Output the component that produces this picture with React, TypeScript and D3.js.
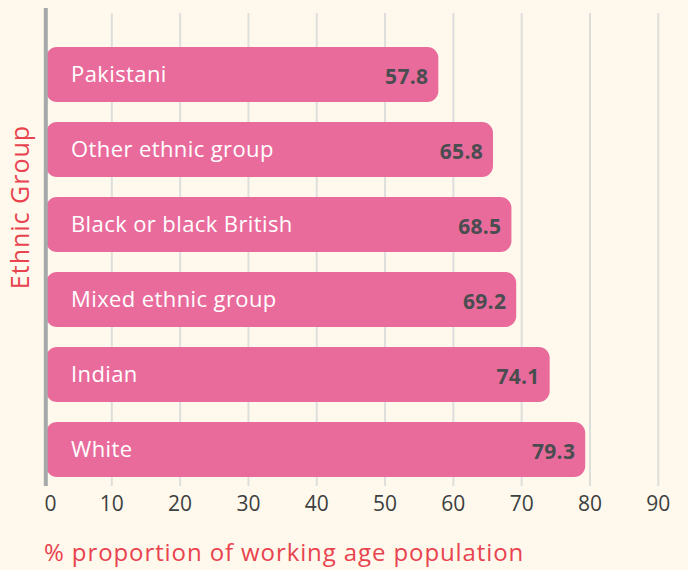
import * as d3 from 'd3';
import React from 'react';

const groups = ['Pakistani', 'Other ethnic group', 'Black or black British', 'Mixed ethnic group', 'Indian', 'White'];
const values = [57.8, 65.8, 68.5, 69.2, 74.1, 79.3];
const ticks = [0, 10, 20, 30, 40, 50, 60, 70, 80, 90];

const W = 688;
const H = 570;
const font = '"Open Sans", Lato, sans-serif';

export default function App() {
  const x = d3.scaleLinear().domain([0, 90]).range([43.5, 658.3]);
  const y = d3.scaleBand().domain(groups).range([37, 487]).paddingInner(20 / 75).paddingOuter(10 / 75);

  // bar with all four corners rounded
  const barPath = (x0: number, x1: number, y0: number, h: number, r: number) => {
    const p = d3.path();
    p.moveTo(x0 + r, y0);
    p.lineTo(x1 - r, y0);
    p.arcTo(x1, y0, x1, y0 + r, r);
    p.lineTo(x1, y0 + h - r);
    p.arcTo(x1, y0 + h, x1 - r, y0 + h, r);
    p.lineTo(x0 + r, y0 + h);
    p.arcTo(x0, y0 + h, x0, y0 + h - r, r);
    p.lineTo(x0, y0 + r);
    p.arcTo(x0, y0, x0 + r, y0, r);
    p.closePath();
    return p.toString();
  };

  return (
    <svg width={W} height={H} style={{ position: 'absolute', left: 0, top: 0 }}>
      <rect width={W} height={H} fill="#fef9ec" />
      {ticks.filter(t => t > 0).map(t => (
        <line key={t} x1={x(t)} x2={x(t)} y1={13} y2={486} stroke="#dedfdc" strokeWidth={2} />
      ))}
      {groups.map((g, i) => {
        const by = y(g)!;
        const bh = y.bandwidth();
        return (
          <g key={g}>
            <path d={barPath(46, x(values[i]), by, bh, 11)} fill="#e96b9c" />
            <text x={71} y={by + bh / 2} dy="0.33em" fill="#ffffff" fontFamily={font} fontSize={22} letterSpacing={0.4}>{g}</text>
            <text x={x(values[i]) - 10} y={by + bh / 2 + 2} dy="0.35em" textAnchor="end" fill="#4a4d4f"
              fontFamily={font} fontSize={21} fontWeight="bold" letterSpacing={0.3}>{values[i].toFixed(1)}</text>
          </g>
        );
      })}
      <line x1={45.8} x2={45.8} y1={8} y2={486} stroke="#a6a9a9" strokeWidth={4} />
      {ticks.map(t => (
        <text key={t} x={x(t) + (t === 0 ? 7 : 0)} y={511} textAnchor="middle" fill="#3d3f40" fontFamily={font} fontSize={21}>{t}</text>
      ))}
      <text x={44} y={561} fill="#e8434f" fontFamily={font} fontSize={24} letterSpacing={0.9}>% proportion of working age population</text>
      <text transform="translate(29,207) rotate(-90)" textAnchor="middle" fill="#e8434f" fontFamily={font} fontSize={25} letterSpacing={1}>Ethnic Group</text>
    </svg>
  );
}
